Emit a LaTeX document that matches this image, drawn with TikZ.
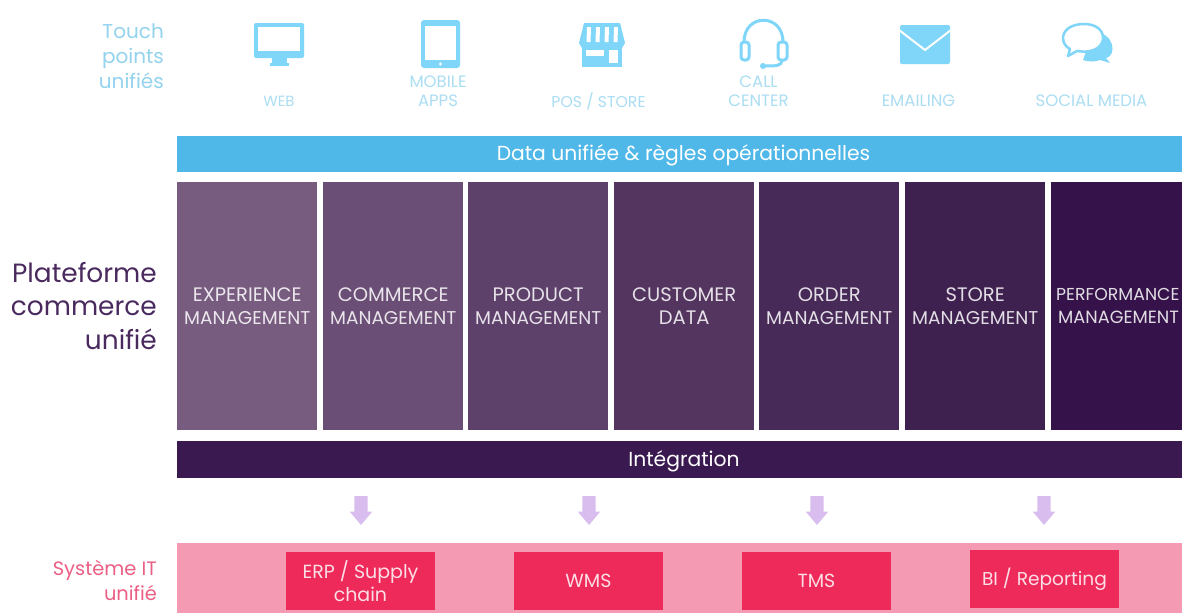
\documentclass[tikz,border=0pt]{standalone}
\usepackage{fontspec}
\setmainfont{Poppins}
\usetikzlibrary{shapes.arrows}
\definecolor{sky}{HTML}{4FB8E8}
\definecolor{iconsky}{HTML}{7FD6F8}
\definecolor{palesky}{HTML}{ABDDF3}
\definecolor{labelsky}{HTML}{93D3EE}
\definecolor{plumdark}{HTML}{3A1850}
\definecolor{plumlabel}{HTML}{4A2A5E}
\definecolor{band}{HTML}{F49AB2}
\definecolor{rose}{HTML}{EE2A5A}
\definecolor{roselabel}{HTML}{EC5F85}
\definecolor{lilac}{HTML}{D9BDEE}
\definecolor{colA}{HTML}{775C80}
\definecolor{colB}{HTML}{6A4E75}
\definecolor{colC}{HTML}{5E416B}
\definecolor{colD}{HTML}{533560}
\definecolor{colE}{HTML}{482A58}
\definecolor{colF}{HTML}{3F2150}
\definecolor{colG}{HTML}{35134A}
\newcommand{\headline}{\fontsize{19.5}{23}\selectfont}
\newcommand{\subline}{\fontsize{18.5}{23}\selectfont}
\tikzset{
  x=1pt,y=-1pt,
  sidelabel/.style={anchor=east,align=right,inner sep=0pt},
  iconlabel/.style={anchor=center,align=center,inner sep=0pt,text=palesky,font=\fontsize{16.5}{19}\selectfont},
  bar/.style={anchor=north west,inner sep=0pt,minimum height=36pt},
  bartext/.style={anchor=center,inner sep=0pt,text=white,font=\fontsize{20.3}{24}\selectfont},
  col/.style={anchor=north west,inner sep=0pt,minimum width=140pt,minimum height=248pt,fill=#1,text=white!85!#1,align=center,font=\subline},
  sysbox/.style={anchor=north west,inner sep=0pt,minimum width=148.5pt,minimum height=58pt,fill=rose,text=white!85!rose,align=center,font=\fontsize{19}{22.5}\selectfont},
  flow/.style={single arrow,draw=none,fill=lilac,rotate=-90,inner xsep=0pt,inner ysep=6.5pt,minimum height=29pt,minimum width=22pt,single arrow head extend=4.5pt,single arrow tip angle=80},
  iconline/.style={draw=iconsky,line width=3pt,fill=none,line join=round},
  iconfill/.style={fill=iconsky,draw=none},
}
\begin{document}
\begin{tikzpicture}
\useasboundingbox (0,0) rectangle (1182,613);
\fill[white] (0,0) rectangle (1182,613);

% side labels
\node[sidelabel,text=labelsky,font=\fontsize{20}{25}\selectfont] (touch) at (164,56) {Touch\\points\\unifiés};
\node[sidelabel,text=plumlabel,font=\fontsize{26.4}{33.5}\selectfont] (plat) at (157,306) {Plateforme\\commerce\\unifié};
\node[sidelabel,text=roselabel,font=\fontsize{19.4}{25}\selectfont] (sys) at (157,580) {Système IT\\unifié};

% web monitor
\fill[iconfill,rounded corners=2pt] (254,23) rectangle (304,58);
\fill[white] (258,27) rectangle (300,51);
\fill[iconfill] (272,58) rectangle (287,63);
\fill[iconfill] (270,63) rectangle (289,66);
\node[iconlabel,font=\fontsize{14.8}{19}\selectfont] (web) at (279,101) {WEB};

% tablet
\fill[iconfill,rounded corners=3pt] (421,20) rectangle (460,68);
\fill[white] (425,26) rectangle (456,60);
\fill[white] (440.5,64) circle (1.6pt);
\node[iconlabel] (mobile) at (438,91.5) {MOBILE\\APPS};

% store
\fill[iconfill] (579,43) -- (584,23) -- (620,23) -- (625,43) -- (622,48) -- (582,48) -- cycle;
\fill[iconfill] (582,48) rectangle (622,67);
\foreach \xa in {587,596,605,614} {\fill[white] (\xa,27) -- (\xa+4,27) -- (\xa+3.5,42) -- (\xa-.5,42) -- cycle;}
\fill[white] (586,50) rectangle (604,56);
\fill[white] (609,50) rectangle (618,63);
\node[iconlabel,font=\fontsize{15.7}{19}\selectfont] (pos) at (598.5,101) {POS / STORE};

% headset
\draw[iconline] (744,42) .. controls (744,13) and (783,13) .. (783,42);
\draw[iconline,rounded corners=3pt] (741,42) rectangle (749,60);
\draw[iconline,rounded corners=3pt] (778,42) rectangle (787,60);
\draw[iconline] (782,60) .. controls (782,66) and (776,66) .. (765,66);
\fill[iconfill] (763,66) circle (3pt);
\node[iconlabel] (call) at (758.5,91.5) {CALL\\CENTER};

% envelope
\fill[iconfill,rounded corners=2pt] (900,25) rectangle (950,64);
\draw[white,line width=2pt] (899,30) -- (925,50) -- (951,30);
\node[iconlabel] (mail) at (918.5,101) {EMAILING};

% speech bubbles
\fill[iconfill] (1093,32) .. controls (1115,32) and (1117,56) .. (1106,58) -- (1110,63) -- (1100,60) .. controls (1095,62) and (1088,62) .. (1083,60) -- cycle;
\draw[iconline,fill=white,line width=2.5pt] (1084,24) .. controls (1070,24) and (1063,31) .. (1063,38) .. controls (1063,43) and (1066,47) .. (1070,49) -- (1068,56) -- (1077,51) .. controls (1096,54) and (1103,45) .. (1103,38) .. controls (1103,30) and (1096,24) .. (1084,24) -- cycle;
\node[iconlabel] (social) at (1091.5,101) {SOCIAL MEDIA};

% bars
\node[bar,fill=sky,minimum width=1005pt] (data) at (177,135.5) {};
\node[bartext] (datatext) at (683.5,155) {Data unifiée \& règles opérationnelles};
\node[bar,fill=plumdark,minimum width=1005pt,minimum height=37pt] (integ) at (177,441) {};
\node[bartext] (integtext) at (684,461.5) {Intégration};

% columns
\node[col=colA] (c1) at (177,182) {\headline EXPERIENCE\\\subline MANAGEMENT};
\node[col=colB] (c2) at (323,182) {\headline COMMERCE\\\subline MANAGEMENT};
\node[col=colC] (c3) at (468,182) {\headline PRODUCT\\\subline MANAGEMENT};
\node[col=colD] (c4) at (614,182) {\headline CUSTOMER\\\headline DATA};
\node[col=colE] (c5) at (759,182) {\headline ORDER\\\subline MANAGEMENT};
\node[col=colF] (c6) at (905,182) {\headline STORE\\\subline MANAGEMENT};
\node[col=colG,minimum width=131pt,text width=131pt] (c7) at (1051,182) {\hspace*{5pt}\makebox[126pt][l]{\fontsize{17.3}{23}\selectfont PERFORMANCE}\\\hspace*{7pt}\makebox[124pt][l]{\fontsize{17.7}{23}\selectfont MANAGEMENT}};

% flow arrows
\node[flow] (a1) at (361,506.5) {};
\node[flow] (a2) at (589,506.5) {};
\node[flow] (a3) at (817,506.5) {};
\node[flow] (a4) at (1044,506.5) {};

% lower band
\fill[band] (177,543) rectangle (1182,613);
\node[sysbox] (erp) at (286,552) {ERP / Supply\\chain};
\node[sysbox] (wms) at (514,552) {WMS};
\node[sysbox] (tms) at (742,552) {TMS};
\node[sysbox,font=\fontsize{18.6}{22.5}\selectfont] (bi) at (970,550) {BI / Reporting};
\end{tikzpicture}
\end{document}
